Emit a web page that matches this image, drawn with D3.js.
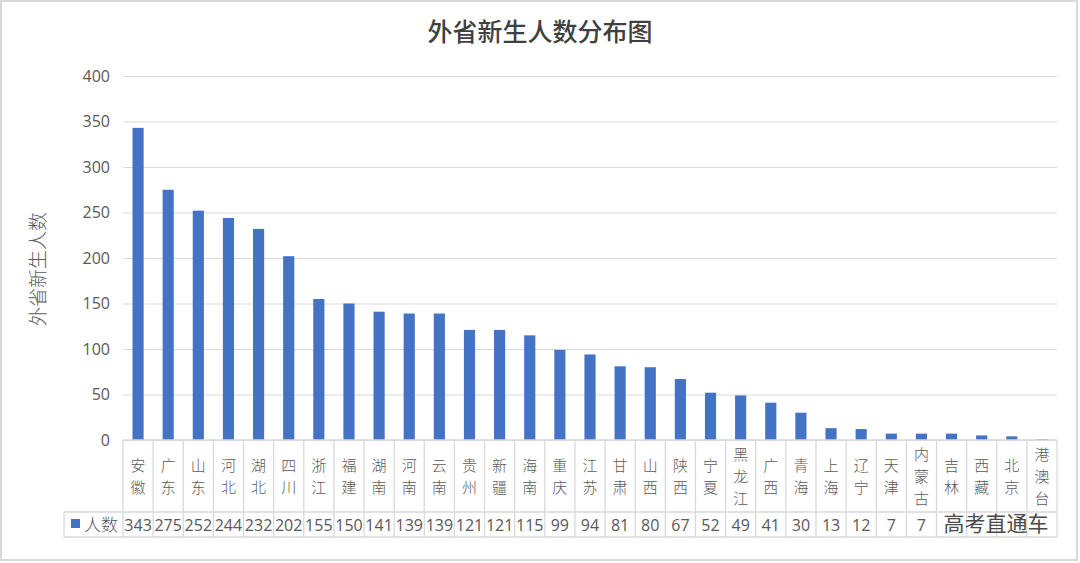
<!DOCTYPE html>
<html>
<head>
<meta charset="utf-8">
<script src="https://cdn.jsdelivr.net/npm/d3@7"></script>
<style>
  body { margin: 0; background: #fff; }
  svg { display: block; }
</style>
</head>
<body>
<svg width="1080" height="563"></svg>
<script>
// 外省新生人数分布图 - bar chart with data table under the axis

const width = 1080;
const height = 563;

const provinces = [
  "安徽", "广东", "山东", "河北", "湖北", "四川", "浙江", "福建", "湖南", "河南",
  "云南", "贵州", "新疆", "海南", "重庆", "江苏", "甘肃", "山西", "陕西", "宁夏",
  "黑龙江", "广西", "青海", "上海", "辽宁", "天津", "内蒙古", "吉林", "西藏", "北京", "港澳台"
];
const counts = [
  343, 275, 252, 244, 232, 202, 155, 150, 141, 139,
  139, 121, 121, 115, 99, 94, 81, 80, 67, 52,
  49, 41, 30, 13, 12, 7, 7, 7, 5, 4, 1
];
// table cells covered by the watermark in the original picture
const coveredCells = ["吉林", "西藏", "北京", "港澳台"];
const yTicks = [0, 50, 100, 150, 200, 250, 300, 350, 400];

const cjk = "'Noto Sans CJK SC', sans-serif";
const num = "'Open Sans', 'Liberation Sans', sans-serif";
const barColor = "#4472c4";
const lineColor = "#d9d9d9";
const textColor = "#595959";

const plotLeft = 123;
const plotRight = 1057;
const plotTop = 76;
const plotBottom = 440;
const rowTop = 512;
const rowBottom = 537;
const legendLeft = 64;
const charStep = 22;

const svg = d3.select("svg");

// outer frame
svg.append("rect")
  .attr("x", 1).attr("y", 1)
  .attr("width", width - 4).attr("height", height - 4)
  .attr("fill", "#fff")
  .attr("stroke", lineColor)
  .attr("stroke-width", 2);

const x = d3.scaleBand()
  .domain(provinces)
  .range([plotLeft, plotRight])
  .paddingInner(0.63)
  .paddingOuter(0.315);

const xCell = d3.scaleBand().domain(provinces).range([plotLeft, plotRight]);

const y = d3.scaleLinear().domain([0, 400]).range([plotBottom, plotTop]);

// title
svg.append("text")
  .attr("x", 540).attr("y", 41)
  .attr("text-anchor", "middle")
  .style("font-family", cjk)
  .style("font-size", "25px")
  .style("font-weight", 500)
  .attr("fill", "#404040")
  .text("外省新生人数分布图");

// y axis title
svg.append("text")
  .attr("transform", "translate(45,269) rotate(-90)")
  .attr("text-anchor", "middle")
  .style("font-family", cjk)
  .style("font-size", "19px")
  .style("font-weight", 300)
  .attr("fill", textColor)
  .text("外省新生人数");

// gridlines + tick labels
const yAxis = d3.axisLeft(y)
  .tickValues(yTicks)
  .tickSize(-(plotRight - plotLeft))
  .tickPadding(13);

const gy = svg.append("g")
  .attr("transform", `translate(${plotLeft},0)`)
  .call(yAxis);
gy.select(".domain").remove();
gy.selectAll(".tick line").attr("stroke", lineColor).attr("stroke-width", 1);
gy.selectAll(".tick text")
  .attr("fill", textColor)
  .style("font-family", num)
  .style("font-size", "16px");

// bars
svg.append("g")
  .selectAll("rect")
  .data(counts)
  .join("rect")
  .attr("x", (d, i) => x(provinces[i]))
  .attr("y", (d) => y(d))
  .attr("width", x.bandwidth())
  .attr("height", (d) => y(0) - y(d))
  .attr("fill", barColor);

// data table: category names, one character per line
const labelChars = [];
provinces.forEach((p) => {
  const chars = p.split("");
  chars.forEach((c, i) => {
    labelChars.push({ p: p, c: c, i: i, n: chars.length });
  });
});

svg.append("g")
  .selectAll("text")
  .data(labelChars)
  .join("text")
  .attr("x", (d) => xCell(d.p) + xCell.bandwidth() / 2)
  .attr("y", (d) => 482 - ((d.n - 1) * charStep) / 2 + d.i * charStep)
  .attr("text-anchor", "middle")
  .style("font-family", cjk)
  .style("font-size", "15px")
  .style("font-weight", 300)
  .attr("fill", textColor)
  .text((d) => d.c);

// data table: values
svg.append("g")
  .selectAll("text")
  .data(counts.map((v, i) => ({ p: provinces[i], v: v }))
    .filter((d) => !coveredCells.includes(d.p)))
  .join("text")
  .attr("x", (d) => xCell(d.p) + xCell.bandwidth() / 2)
  .attr("y", 531)
  .attr("text-anchor", "middle")
  .style("font-family", num)
  .style("font-size", "16px")
  .attr("fill", textColor)
  .text((d) => d.v);

// table lines
const grid = svg.append("g")
  .attr("stroke", lineColor)
  .attr("stroke-width", 1.3);

grid.append("line")
  .attr("x1", plotLeft).attr("x2", plotRight)
  .attr("y1", plotBottom).attr("y2", plotBottom);
grid.append("line")
  .attr("x1", legendLeft).attr("x2", plotRight)
  .attr("y1", rowTop).attr("y2", rowTop);
grid.append("line")
  .attr("x1", legendLeft).attr("x2", plotRight)
  .attr("y1", rowBottom).attr("y2", rowBottom);
grid.append("line")
  .attr("x1", legendLeft).attr("x2", legendLeft)
  .attr("y1", rowTop).attr("y2", rowBottom);

grid.selectAll(".vline")
  .data(provinces.concat(["end"]))
  .join("line")
  .attr("class", "vline")
  .attr("x1", (d) => (d === "end" ? plotRight : xCell(d)))
  .attr("x2", (d) => (d === "end" ? plotRight : xCell(d)))
  .attr("y1", plotBottom)
  .attr("y2", rowBottom);

// legend key in the table
svg.append("rect")
  .attr("x", 71).attr("y", 519)
  .attr("width", 9).attr("height", 9)
  .attr("fill", barColor);

svg.append("text")
  .attr("x", 84).attr("y", 531)
  .style("font-family", cjk)
  .style("font-size", "17px")
  .style("font-weight", 300)
  .attr("fill", textColor)
  .text("人数");

// watermark
svg.append("text")
  .attr("x", 996).attr("y", 531)
  .attr("text-anchor", "middle")
  .style("font-family", cjk)
  .style("font-size", "21px")
  .attr("fill", "#4a4a4a")
  .text("高考直通车");
</script>
</body>
</html>
